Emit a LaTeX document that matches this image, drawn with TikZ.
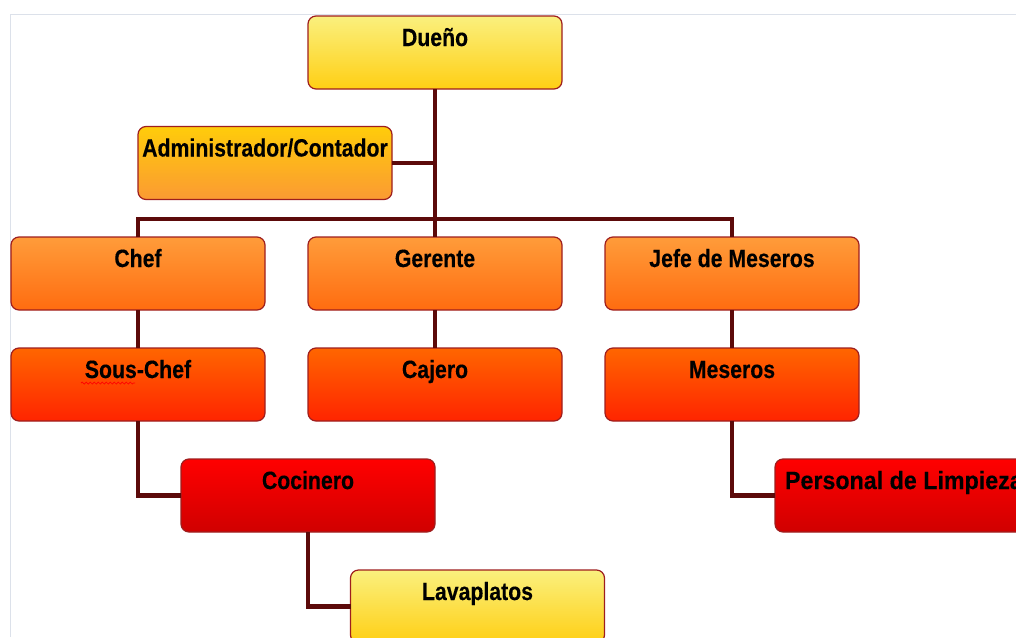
\documentclass[tikz,border=0pt]{standalone}
\usepackage{fontspec}
\newfontfamily\orgfont{Liberation Sans}[FakeStretch=0.85,BoldFeatures={FakeBold=0.3}]
\newfontfamily\orgwidefont{Liberation Sans}[FakeStretch=0.93,BoldFeatures={FakeBold=0.3}]
\usetikzlibrary{positioning,calc,decorations.pathmorphing}
\definecolor{linkred}{HTML}{5C0A0A}
\definecolor{boxedge}{HTML}{9E1E1E}
\definecolor{framegray}{HTML}{DCE1EA}
\definecolor{yelTop}{HTML}{FAF07E}
\definecolor{yelBot}{HTML}{FFCF14}
\definecolor{goldTop}{HTML}{FFCC0A}
\definecolor{goldBot}{HTML}{FB9A33}
\definecolor{orTop}{HTML}{FF9C3A}
\definecolor{orBot}{HTML}{FF6C10}
\definecolor{redorTop}{HTML}{FF6600}
\definecolor{redorBot}{HTML}{FF2400}
\definecolor{redTop}{HTML}{FF0000}
\definecolor{redBot}{HTML}{D00000}
\tikzset{org box/.style={draw=boxedge,line width=1.2pt,rounded corners=8pt,minimum width=254pt,inner xsep=0pt,inner ysep=0pt,outer sep=0pt,text height=30pt,text depth=43pt,font=\orgfont\bfseries\fontsize{25}{28}\selectfont},}
\tikzset{yellow box/.style={org box,top color=yelTop,bottom color=yelBot},}
\tikzset{gold box/.style={org box,top color=goldTop,bottom color=goldBot},}
\tikzset{orange box/.style={org box,top color=orTop,bottom color=orBot},}
\tikzset{redorange box/.style={org box,top color=redorTop,bottom color=redorBot},}
\tikzset{red box/.style={org box,top color=redTop,bottom color=redBot},}
\tikzset{link/.style={draw=linkred,line width=4.5pt},}

\begin{document}
\begin{tikzpicture}[x=1pt,y=-1pt]
     \useasboundingbox (0,0) rectangle (1016,637);
     \clip (0,0) rectangle (1016,637);
     \draw[framegray,line width=1pt] (10,637) |- (1016,14);

     \node[yellow box] (duen) at (435,52.5) {Dueño};
     \node[gold box] (admin) at (265,163) {Administrador/Contador};
     \node[orange box] (gerente) [below=148pt of duen] {Gerente};
     \node[orange box] (chef) [left=43pt of gerente] {Chef};
     \node[orange box] (jefe) [right=43pt of gerente] {Jefe de Meseros};
     \node[redorange box] (sous) [below=38pt of chef] {Sous-Chef};
     \node[redorange box] (cajero) [below=38pt of gerente] {Cajero};
     \node[redorange box] (meseros) [below=38pt of jefe] {Meseros};
     \node[red box] (cocinero) at (308,495.5) {Cocinero};
     \node[red box,anchor=west,text width=270pt,inner xsep=10pt,align=flush left,font=\orgwidefont\bfseries\fontsize{25}{28}\selectfont] (personal) at (775,495.5) {Personal de Limpieza};
     \node[yellow box] (lava) at (477.5,606.5) {Lavaplatos};

     \draw[red,line width=0.7pt,decorate,decoration={snake,amplitude=1pt,segment length=4pt}]
     ($(sous.north)+(-57,35)$) -- ($(sous.north)+(-3,35)$);

     \draw[link] (duen.south) -- (gerente.north);
     \draw[link] (admin.east) -- (admin.east -| duen.south);
     \draw[link] (chef.north) -- ++(0,18pt) -| (jefe.north);
     \draw[link] (chef.south) -- (sous.north);
     \draw[link] (gerente.south) -- (cajero.north);
     \draw[link] (jefe.south) -- (meseros.north);
     \draw[link] (sous.south) |- (cocinero.west);
     \draw[link] (meseros.south) |- (personal.west);
     \draw[link] (cocinero.south) |- (lava.west);
\end{tikzpicture}
\end{document}
